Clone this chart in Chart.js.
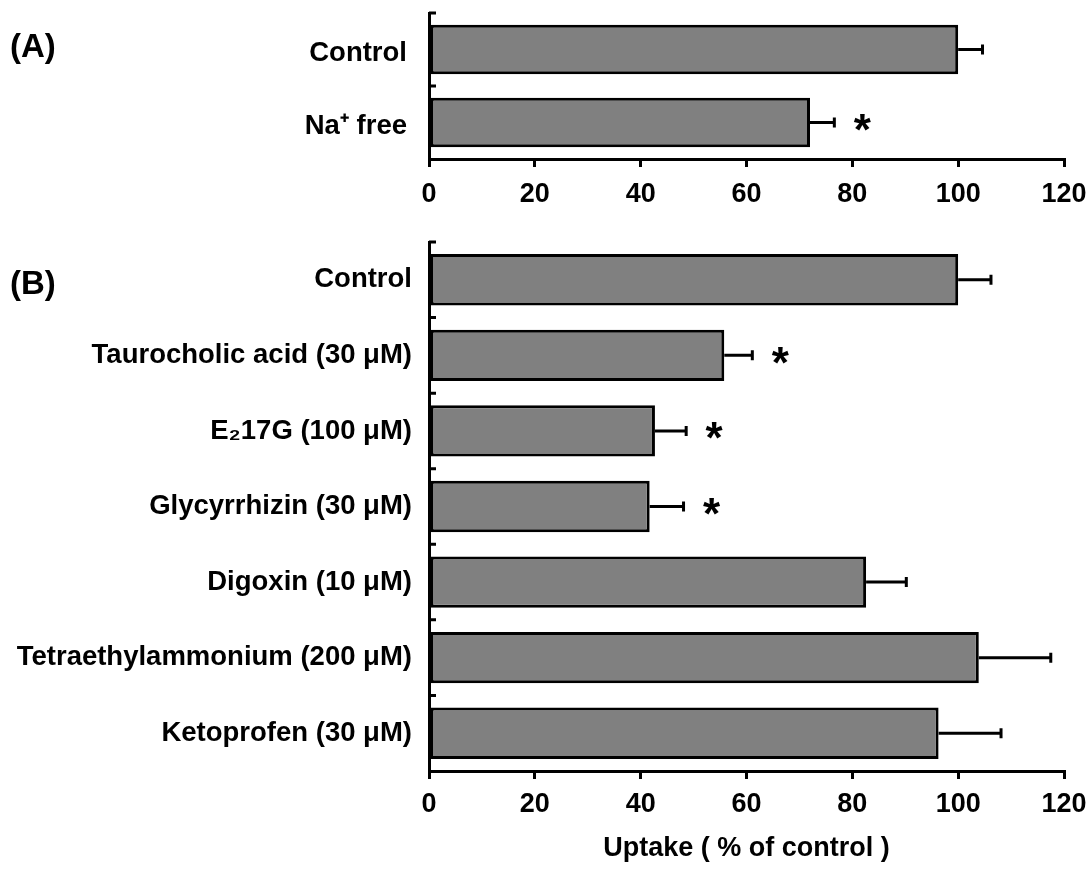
<!DOCTYPE html>
<html>
<head>
<meta charset="utf-8">
<script src="https://cdn.jsdelivr.net/npm/chart.js@4.4.1/dist/chart.umd.min.js"></script>
<style>
  html, body { margin: 0; padding: 0; background: #fff; }
  #wrap { position: relative; width: 1092px; height: 869px; overflow: hidden;
          font-family: 'Liberation Sans', Arial, sans-serif; }
  canvas { position: absolute; left: 0; }
  #chartA { top: 0; }
  #chartB { top: 230px; }
  .panel { position: absolute; left: 10px; font-weight: bold; font-size: 33px; line-height: 1; color: #000; }
</style>
</head>
<body>
<div id="wrap">
  <canvas id="chartA" width="1092" height="230"></canvas>
  <canvas id="chartB" width="1092" height="639"></canvas>
  <div class="panel" style="top:29px">(A)</div>
  <div class="panel" style="top:266px">(B)</div>
</div>
<script>
// Panel A: effect of Na+ removal
const labelsA = ['Control', 'Na⁺ free'];
const uptakeA = [100, 72.0];
const semA = [4.6, 4.6];
const sigA = [false, true];

// Panel B: effect of inhibitors
const labelsB = [
  'Control',
  'Taurocholic acid (30 μM)',
  'E₂17G (100 μM)',
  'Glycyrrhizin (30 μM)',
  'Digoxin (10 μM)',
  'Tetraethylammonium (200 μM)',
  'Ketoprofen (30 μM)'
];
const uptakeB = [100, 55.8, 42.7, 41.7, 82.6, 103.9, 96.3];
const semB = [6.2, 5.3, 5.9, 6.4, 7.6, 13.6, 11.8];
const sigB = [false, true, true, true, false, false, false];

const xTicks = [0, 20, 40, 60, 80, 100, 120];
const xTitle = 'Uptake ( % of control )';

const FONT = "'Liberation Sans', Arial, sans-serif";

// Error bars (mean + SEM) and significance asterisks
const errorBarPlugin = {
  id: 'errorBars',
  afterDatasetsDraw(chart) {
    const ctx = chart.ctx;
    const ds = chart.data.datasets[0];
    const meta = chart.getDatasetMeta(0);
    const xs = chart.scales.x;
    ctx.save();
    ctx.strokeStyle = '#000';
    ctx.fillStyle = '#000';
    ctx.lineWidth = 3;
    meta.data.forEach((bar, i) => {
      const v = ds.data[i];
      const e = ds.sem[i];
      const x0 = xs.getPixelForValue(v);
      const x1 = xs.getPixelForValue(v + e);
      const y = bar.y;
      ctx.beginPath();
      ctx.moveTo(x0, y); ctx.lineTo(x1, y);
      ctx.moveTo(x1, y - 5); ctx.lineTo(x1, y + 5);
      ctx.stroke();
      if (ds.sig[i]) {
        ctx.font = 'bold 44px ' + FONT;
        ctx.textAlign = 'center';
        ctx.textBaseline = 'alphabetic';
        const m = ctx.measureText('*');
        const by = y + (m.actualBoundingBoxAscent - m.actualBoundingBoxDescent) / 2;
        ctx.fillText('*', x1 + 28, by);
      }
    });
    ctx.restore();
  }
};

// Short inward tick marks on the category axis, at the band boundaries
const categoryTickPlugin = {
  id: 'categoryTicks',
  afterDraw(chart) {
    const ctx = chart.ctx;
    const ys = chart.scales.y;
    const n = chart.data.labels.length;
    ctx.save();
    ctx.strokeStyle = '#000';
    ctx.lineWidth = 3;
    ctx.beginPath();
    for (let k = 0; k < n; k++) {
      const y = ys.getPixelForValue(k - 0.5);
      ctx.moveTo(ys.right, y);
      ctx.lineTo(ys.right + 7, y);
    }
    ctx.stroke();
    ctx.restore();
  }
};

function makeChart(id, labels, values, sem, sig, cfg) {
  return new Chart(document.getElementById(id), {
    type: 'bar',
    data: {
      labels: labels,
      datasets: [{
        data: values,
        sem: sem,
        sig: sig,
        backgroundColor: '#808080',
        borderColor: '#000',
        borderWidth: 3,
        borderSkipped: false,
        barPercentage: 0.68,
        categoryPercentage: 1
      }]
    },
    options: {
      indexAxis: 'y',
      responsive: false,
      animation: false,
      events: [],
      layout: { padding: { top: cfg.top, right: 28, left: 0, bottom: 0 } },
      plugins: { legend: { display: false }, tooltip: { enabled: false } },
      scales: {
        x: {
          type: 'linear',
          min: 0,
          max: 120,
          afterBuildTicks: s => { s.ticks = xTicks.map(v => ({ value: v })); },
          ticks: {
            color: '#000',
            padding: cfg.tickPad,
            font: { family: FONT, weight: 'bold', size: 27 }
          },
          grid: { display: true, drawOnChartArea: false, drawTicks: true, tickLength: 8, color: '#000', lineWidth: 3 },
          border: { display: true, color: '#000', width: 3 },
          title: cfg.title ? {
            display: true,
            text: cfg.title,
            color: '#000',
            font: { family: FONT, weight: 'bold', size: 27 },
            padding: { top: 0, bottom: 4 }
          } : { display: false },
          afterFit: s => { s.height = cfg.xHeight; s.paddingLeft = 0; s.paddingRight = 0; }
        },
        y: {
          ticks: {
            color: '#000',
            padding: cfg.labelPad,
            labelOffset: cfg.labelShift,
            font: { family: FONT, weight: 'bold', size: 27.5 }
          },
          grid: { display: false, drawTicks: false, tickLength: 0 },
          border: { display: true, color: '#000', width: 3 },
          afterFit: s => { s.width = 429; s.paddingTop = 0; s.paddingBottom = 0; }
        }
      }
    },
    plugins: [errorBarPlugin, categoryTickPlugin]
  });
}

makeChart('chartA', labelsA, uptakeA, semA, sigA, { top: 13, xHeight: 71, tickPad: 11, labelPad: 22, labelShift: 4, title: null });
makeChart('chartB', labelsB, uptakeB, semB, sigB, { top: 12, xHeight: 98, tickPad: 9, labelPad: 17, labelShift: 0, title: xTitle });
</script>
</body>
</html>
